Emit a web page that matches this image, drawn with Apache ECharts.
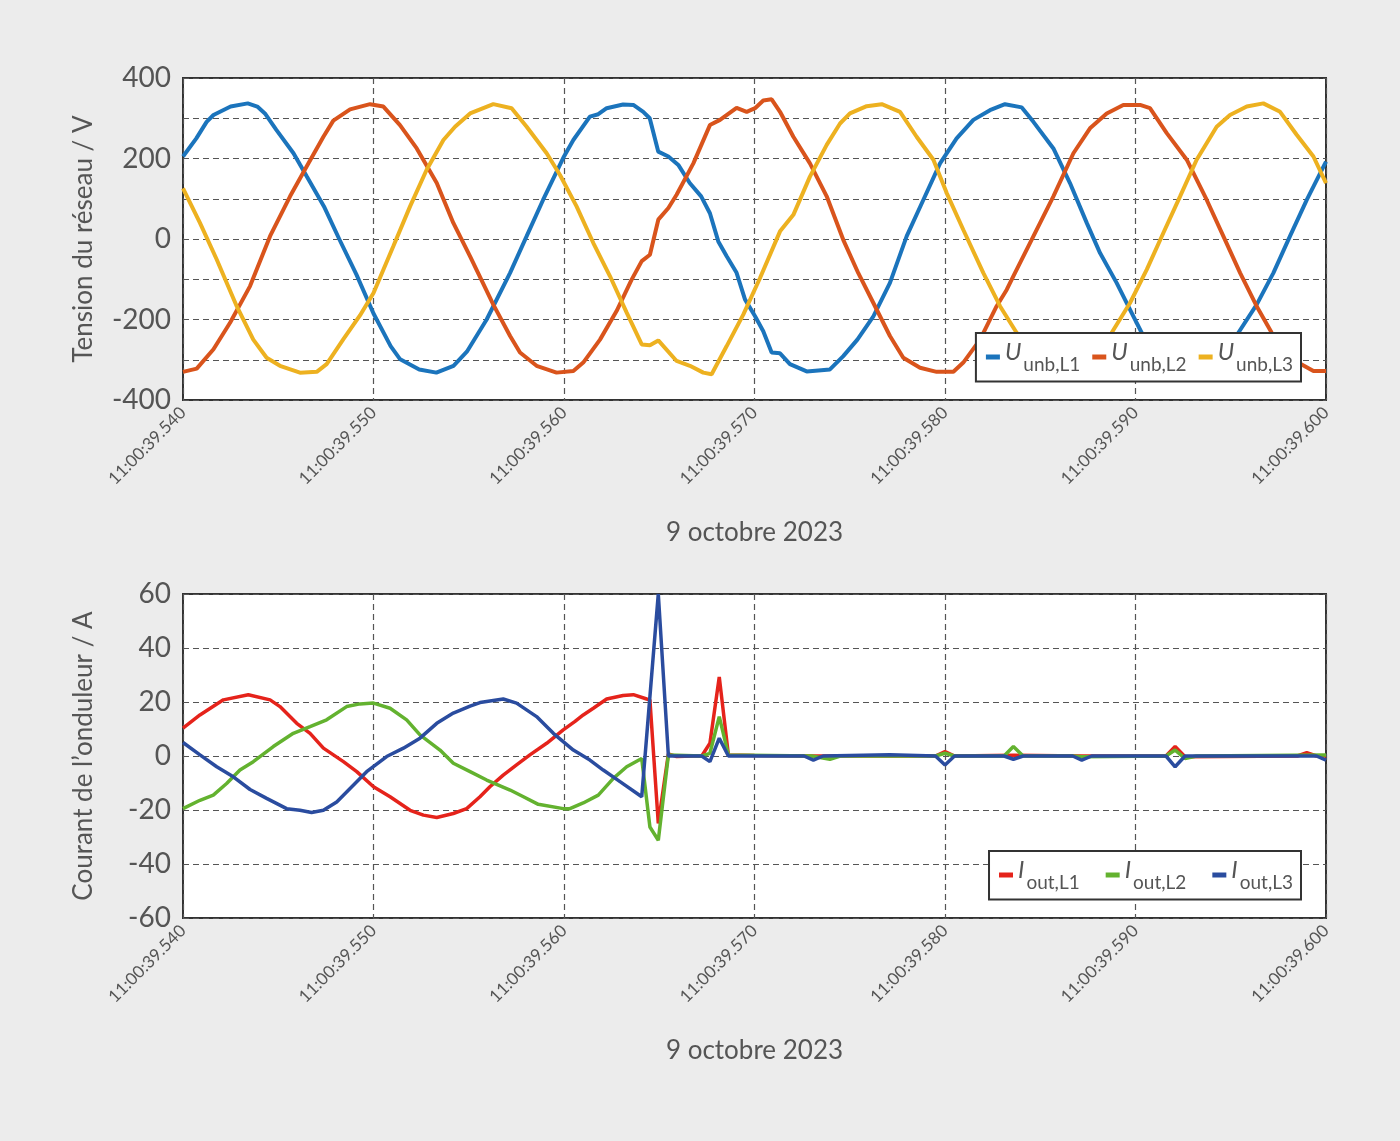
<!DOCTYPE html>
<html lang="fr">
<head>
    <meta charset="UTF-8">
    <title>Tension du réseau et courant de l'onduleur</title>
    <script src="https://cdn.jsdelivr.net/npm/echarts@6/dist/echarts.min.js"></script>
    <style>
        html, body {
            margin: 0;
            padding: 0;
            background: #ececec;
        }
        #chart {
            width: 1400px;
            height: 1141px;
        }
    </style>
</head>
<body>
<div id="chart"></div>
<script>
    // temps en ms après 11:00:39
    const xTicks = [540, 550, 560, 570, 580, 590, 600];
    const xLabelPrefix = '11:00:39.';
    const dateLabel = '9 octobre 2023';

    // tensions du réseau / V  [t, valeur]
    const uL1 = [[540,205],[540.7,250],[541.24,291],[541.6,308],[542.5,329],[543.4,337],[543.9,329],[544.3,312],[544.9,271],[545.8,213],[546.5,155],[547.4,81],[548.2,0],[549.1,-88],[550,-185],[550.9,-266],[551.4,-299],[552.4,-324],[553.3,-332],[554.2,-315],[554.9,-280],[555.94,-200],[557.17,-84],[558.04,7],[558.9,97],[560,205],[560.49,246],[561.36,304],[561.8,310],[562.24,325],[563.1,334],[563.64,333],[564.16,316],[564.5,300],[564.95,217],[565.48,205],[566.0,184],[566.6,139],[567.2,106],[567.66,64],[568.1,-6],[568.54,-43],[569.06,-84],[569.5,-150],[570.03,-192],[570.46,-229],[570.9,-282],[571.34,-284],[571.86,-311],[572.74,-329],[573.96,-324],[574.66,-291],[575.4,-250],[576.24,-192],[577.11,-109],[577.99,7],[578.86,97],[579.74,188],[580.61,250],[581.49,296],[582.36,320],[583.15,335],[584.03,327],[584.64,291],[585.69,225],[586.56,139],[587.44,40],[588.14,-35],[589.01,-109],[589.89,-192],[590.41,-241],[591.2,-290],[592.2,-322],[593.2,-334],[594.2,-318],[594.9,-275],[595.4,-233],[596.36,-163],[597.24,-84],[598.11,7],[598.99,97],[600,192]];
    const uL2 = [[540,-330],[540.72,-322],[541.6,-274],[542.47,-208],[543.52,-117],[544.57,7],[545.62,106],[546.49,180],[547.37,254],[547.89,294],[548.77,322],[549.82,335],[550.52,329],[551.39,283],[552.27,225],[553.32,139],[554.19,40],[555.07,-43],[556.29,-163],[557.17,-241],[557.69,-282],[558.56,-315],[559.61,-332],[560.49,-328],[561.01,-307],[561.89,-250],[562.76,-179],[563.55,-101],[564.08,-55],[564.51,-39],[564.95,48],[565.48,77],[565.91,110],[566.79,188],[567.66,283],[568.19,296],[569.06,326],[569.59,316],[570.03,325],[570.46,344],[570.9,347],[571.34,316],[572.04,254],[572.91,188],[573.79,106],[574.66,-2],[575.45,-85],[576.24,-159],[577.11,-241],[577.81,-295],[578.69,-320],[579.56,-330],[580.44,-330],[580.96,-307],[581.84,-250],[582.71,-167],[583.24,-126],[583.59,-92],[584.46,-10],[585.69,106],[586.74,213],[587.61,275],[588.49,312],[589.36,333],[590.24,333],[590.76,325],[591.64,263],[592.69,197],[593.74,97],[594.61,7],[595.49,-84],[596.36,-167],[597.15,-233],[597.9,-290],[598.7,-311],[599.34,-328],[600,-328]];
    const uL3 = [[540,126],[540.89,40],[541.77,-51],[542.82,-167],[543.69,-250],[544.39,-295],[545.09,-315],[546.14,-332],[547.02,-330],[547.54,-311],[548.42,-249],[549.29,-190],[550,-134],[551.04,-18],[551.92,81],[552.79,172],[553.67,246],[554.28,279],[555.07,312],[556.29,335],[557.25,325],[558.04,279],[559.09,213],[559.79,159],[560.66,81],[561.54,-10],[562.41,-92],[563.29,-183],[564.08,-262],[564.51,-264],[564.95,-252],[565.91,-303],[566.61,-315],[567.31,-332],[567.75,-336],[568.54,-266],[569.41,-188],[570.29,-97],[571.34,19],[572.04,60],[572.91,155],[573.79,234],[574.49,287],[575.01,312],[575.89,330],[576.68,335],[577.64,316],[578.51,254],[579.39,197],[580.09,114],[580.96,23],[582.01,-84],[582.89,-167],[583.76,-233],[584.6,-285],[585.6,-322],[586.6,-335],[587.6,-320],[588.3,-275],[588.75,-233],[589.71,-159],[590.59,-76],[591.46,15],[592.34,106],[593.21,197],[594.26,279],[594.96,308],[595.84,329],[596.71,337],[597.59,316],[598.46,259],[599.34,205],[600,139]];

    // courants de l'onduleur / A  [t, valeur]
    const iL1 = [[540,10.3],[540.89,15.2],[542.12,20.8],[543.43,22.7],[544.57,20.8],[545.09,18.3],[545.97,12.1],[546.67,8.4],[547.37,2.9],[548.42,-2.1],[549.12,-5.8],[550,-11.4],[550.87,-15.1],[551.92,-20.1],[552.62,-21.9],[553.32,-22.8],[554.19,-21.3],[554.89,-19.5],[555.59,-15.1],[556.11,-11.4],[556.81,-7.1],[557.51,-3.3],[558.21,0.4],[559.09,4.7],[559.96,9.7],[560.58,12.8],[561.01,15.2],[561.54,17.7],[562.24,21.1],[563.1,22.4],[563.64,22.7],[564.34,21.1],[564.51,20.8],[564.95,-25],[565.48,0.8],[565.91,-0.2],[566.79,0],[567.23,0],[567.66,4.7],[568.15,29.3],[568.63,0.4],[570,0.2],[573,0],[575,0],[579.5,0],[580,1.6],[580.5,0],[583.6,0.3],[587.2,0],[591.6,0],[592.08,3.5],[592.6,-0.3],[598.5,0],[598.99,1.2],[599.5,0],[600,0]];
    const iL2 = [[540,-19.5],[540.89,-16.4],[541.59,-14.5],[542.29,-10.2],[542.99,-5.2],[543.69,-2.1],[544.74,3.5],[545.79,8.4],[546.67,10.9],[547.54,13.4],[548.59,18.3],[549.29,19.3],[550,19.6],[550.87,17.7],[551.74,13.4],[552.44,7.8],[553.49,2.2],[554.19,-2.7],[555.07,-5.8],[555.94,-8.9],[557.17,-12.6],[557.87,-15.1],[558.65,-17.9],[559.96,-19.5],[560.31,-19.5],[561.01,-17.4],[561.8,-14.5],[562.59,-8.3],[563.29,-4],[564.08,-0.9],[564.51,-26.3],[564.95,-31.2],[565.48,0.4],[567.23,0],[567.66,1],[568.15,14.6],[568.63,0.4],[573,0],[573.96,-1.2],[574.5,0],[579.5,0],[580,1],[580.5,0],[583.1,0],[583.59,3.5],[584.1,0],[586.7,0],[587.18,-0.3],[591.6,0],[592.08,2.2],[592.6,-0.9],[593.2,0],[600,0.4]];
    const iL3 = [[540,5],[540.89,0.4],[541.77,-4],[542.64,-7.7],[543.52,-12.4],[544.39,-15.7],[545.44,-19.5],[546.14,-20.1],[546.75,-20.9],[547.37,-20.1],[548.07,-17],[548.77,-12],[549.64,-5.8],[550.69,-0.2],[551.57,2.9],[552.44,6.6],[553.32,12.1],[554.19,15.9],[555.07,18.5],[555.59,19.8],[556.81,21.1],[557.51,19.6],[558.56,14.6],[559.44,8.4],[560.49,2.2],[561.36,-1.5],[562.06,-5.2],[562.94,-9.5],[564.08,-15.1],[564.95,60],[565.48,0],[567.23,0],[567.66,-2.1],[568.15,6.6],[568.63,0],[572.6,0],[573.09,-1.5],[573.6,0],[577.1,0.5],[579.5,0],[580,-3.3],[580.5,0],[583.1,0],[583.59,-1.2],[584.1,0],[586.7,0],[587.18,-1.5],[587.7,0],[591.6,0],[592.08,-4],[592.6,0],[599.5,0],[600,-1.5]];

    const fontFam = 'Lato, "Open Sans", sans-serif';
    const grey = '#555';

    /*axe x commun aux deux graphiques*/
    function makeXAxis(gridIndex) {
        return {
            type: 'value',
            gridIndex: gridIndex,
            min: xTicks[0],
            max: xTicks[xTicks.length - 1],
            interval: 10,
            name: dateLabel,
            nameLocation: 'middle',
            nameGap: 120,
            nameTextStyle: {color: grey, fontSize: 26, fontFamily: fontFam},
            axisLine: {show: false},
            axisTick: {show: false},
            axisLabel: {
                rotate: 45,
                margin: 10,
                color: grey,
                fontSize: 17,
                fontFamily: fontFam,
                formatter: v => xLabelPrefix + v
            },
            splitLine: {lineStyle: {type: [6, 4], color: '#555', width: 1.2}}
        };
    }

    function makeYAxis(gridIndex, min, max, interval, step, name) {
        return {
            type: 'value',
            gridIndex: gridIndex,
            min: min,
            max: max,
            interval: interval,
            name: name,
            nameLocation: 'middle',
            nameGap: 86,
            nameTextStyle: {color: grey, fontSize: 26, fontFamily: fontFam},
            axisLine: {show: false},
            axisTick: {show: false},
            axisLabel: {
                margin: 12,
                color: grey,
                fontSize: 28,
                fontFamily: fontFam,
                formatter: v => (v % step === 0 ? String(v) : '')
            },
            splitLine: {lineStyle: {type: [6, 4], color: '#555', width: 1.2}}
        };
    }

    const legendRich = {
        i: {fontSize: 24, fontStyle: 'italic', color: grey, fontFamily: fontFam, padding: [0, 2, 10, 0]},
        s: {fontSize: 19, color: grey, fontFamily: fontFam, padding: [16, 0, 0, 0]}
    };

    function makeLegend(names, top, gap) {
        return {
            data: names,
            right: 99,
            top: top,
            orient: 'horizontal',
            icon: 'rect',
            itemWidth: 14,
            itemHeight: 5,
            itemGap: gap,
            padding: [7, 8, 7, 10],
            backgroundColor: '#fff',
            borderColor: '#333',
            borderWidth: 2,
            borderRadius: 0,
            formatter: name => {
                const p = name.split(' ');
                return '{i|' + p[0] + '}{s|' + p[1] + '}';
            },
            textStyle: {rich: legendRich}
        };
    }

    function line(name, data, color, xi, width) {
        return {
            name: name,
            type: 'line',
            data: data,
            xAxisIndex: xi,
            yAxisIndex: xi,
            color: color,
            showSymbol: false,
            symbol: 'none',
            lineStyle: {width: width, color: color},
            animation: false
        };
    }

    const chart = echarts.init(document.getElementById('chart'));
    chart.setOption({
        backgroundColor: '#ececec',
        animation: false,
        grid: [
            {left: 183, top: 78, width: 1143, height: 322, show: true, backgroundColor: '#fff', borderColor: '#333', borderWidth: 2},
            {left: 183, top: 594, width: 1143, height: 324, show: true, backgroundColor: '#fff', borderColor: '#333', borderWidth: 2}
        ],
        xAxis: [makeXAxis(0), makeXAxis(1)],
        yAxis: [
            makeYAxis(0, -400, 400, 100, 200, 'Tension du réseau / V'),
            makeYAxis(1, -60, 60, 20, 20, 'Courant de l’onduleur / A')
        ],
        legend: [
            makeLegend(['U unb,L1', 'U unb,L2', 'U unb,L3'], 333, 12),
            makeLegend(['I out,L1', 'I out,L2', 'I out,L3'], 851, 26)
        ],
        series: [
            line('U unb,L1', uL1, '#1b74bc', 0, 4),
            line('U unb,L2', uL2, '#d9541c', 0, 4),
            line('U unb,L3', uL3, '#edb120', 0, 4),
            line('I out,L1', iL1, '#e5231b', 1, 3.5),
            line('I out,L2', iL2, '#63b22f', 1, 3.5),
            line('I out,L3', iL3, '#2a4c9f', 1, 3.5)
        ]
    });
</script>
</body>
</html>
